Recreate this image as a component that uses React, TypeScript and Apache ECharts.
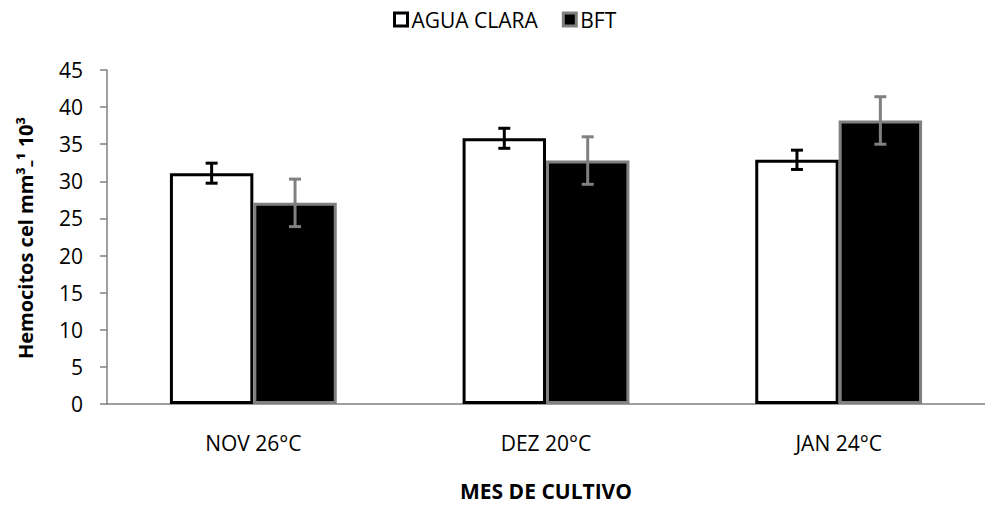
import React, { useEffect, useRef } from "react";
import * as echarts from "echarts";

const categories = ["NOV 26°C", "DEZ 20°C", "JAN 24°C"];
const aguaClara = [31.1, 35.8, 32.9];
const aguaClaraErr = [1.35, 1.35, 1.3];
const bft = [27.1, 32.8, 38.2];
const bftErr = [3.2, 3.2, 3.2];
const yTicks = { min: 0, max: 45, interval: 5 };

const FONT = "'Open Sans', 'Liberation Sans', sans-serif";
const GRAY = "#808080";
const CAT_GAP = 0.43; // share of the band left empty between groups

function errorSeries(values: number[], errs: number[], side: number, color: string) {
  return {
    type: "custom",
    coordinateSystem: "cartesian2d",
    z: 10,
    silent: true,
    data: values.map((v, i) => [i, v - errs[i], v + errs[i]]),
    encode: { x: 0, y: [1, 2] },
    renderItem: (_params: any, api: any) => {
      const idx = api.value(0);
      const lo = api.coord([idx, api.value(1)]);
      const hi = api.coord([idx, api.value(2)]);
      const band = api.size([1, 0])[0];
      const x = lo[0] + side * band * (1 - CAT_GAP) / 4;
      const cap = 6;
      const style = { stroke: color, lineWidth: 3 };
      return {
        type: "group",
        children: [
          { type: "line", shape: { x1: x, y1: lo[1], x2: x, y2: hi[1] }, style },
          { type: "line", shape: { x1: x - cap, y1: hi[1], x2: x + cap, y2: hi[1] }, style },
          { type: "line", shape: { x1: x - cap, y1: lo[1], x2: x + cap, y2: lo[1] }, style },
        ],
      };
    },
  };
}

export default function App() {
  const ref = useRef<HTMLDivElement>(null);

  useEffect(() => {
    if (!ref.current) return;
    const chart = echarts.init(ref.current, null, { renderer: "svg" });
    chart.setOption({
      animation: false,
      backgroundColor: "#fff",
      textStyle: { fontFamily: FONT },
      legend: {
        left: 388,
        top: 4,
        icon: "rect",
        itemWidth: 13,
        itemHeight: 13,
        itemGap: 24,
        textStyle: { fontFamily: FONT, fontSize: 21, color: "#000", padding: [0, 0, 0, -1] },
        data: [
          { name: "AGUA CLARA", itemStyle: { color: "#fff", borderColor: "#000", borderWidth: 3 } },
          { name: "BFT", itemStyle: { color: "#000", borderColor: GRAY, borderWidth: 3 } },
        ],
      },
      grid: { left: 107, top: 70, width: 903, height: 336, containLabel: false },
      xAxis: {
        type: "category",
        data: categories,
        axisLine: { lineStyle: { color: GRAY, width: 1.5 } },
        axisTick: { show: false },
        axisLabel: { fontFamily: FONT, fontSize: 21, color: "#000", margin: 28 },
        name: "MES DE CULTIVO",
        nameLocation: "middle",
        nameGap: 76,
        nameTextStyle: { fontFamily: FONT, fontSize: 21, fontWeight: "bold", color: "#000" },
      },
      yAxis: {
        type: "value",
        min: yTicks.min,
        max: yTicks.max,
        interval: yTicks.interval,
        axisLine: { show: true, lineStyle: { color: GRAY, width: 1.5 } },
        axisTick: { show: true, length: 7, lineStyle: { color: GRAY, width: 1.5 } },
        splitLine: { show: false },
        axisLabel: { fontFamily: FONT, fontSize: 21, color: "#000", margin: 24 },
      },
      graphic: [
        {
          type: "text",
          x: 25,
          y: 238,
          rotation: Math.PI / 2,
          style: {
            text: "Hemocitos cel mm³₋¹ 10³",
            fontFamily: FONT,
            fontSize: 20,
            fontWeight: "bold",
            fill: "#000",
            align: "center",
            verticalAlign: "middle",
          },
        },
      ],
      series: [
        {
          name: "AGUA CLARA",
          type: "bar",
          data: aguaClara,
          barGap: "0%",
          barCategoryGap: `${CAT_GAP * 100}%`,
          itemStyle: { color: "#fff", borderColor: "#000", borderWidth: 3 },
        },
        {
          name: "BFT",
          type: "bar",
          data: bft,
          barGap: "0%",
          barCategoryGap: `${CAT_GAP * 100}%`,
          itemStyle: { color: "#000", borderColor: GRAY, borderWidth: 3 },
        },
        errorSeries(aguaClara, aguaClaraErr, -1, "#000"),
        errorSeries(bft, bftErr, 1, GRAY),
      ],
    });
    return () => chart.dispose();
  }, []);

  return <div ref={ref} style={{ width: 985, height: 506, position: "absolute", left: 0, top: 0 }} />;
}
